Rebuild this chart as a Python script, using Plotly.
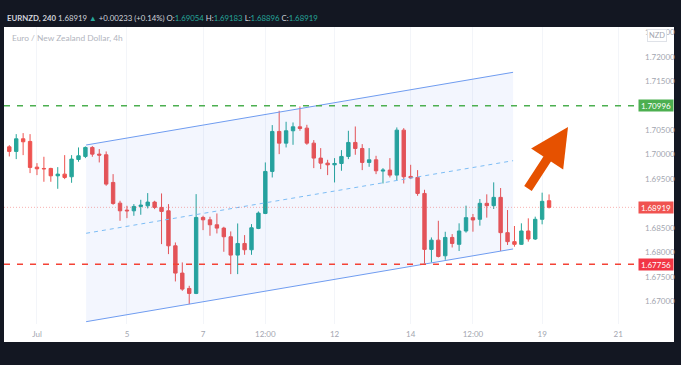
import plotly.graph_objects as go

# ---------------- data ----------------
open_ = [1.70157, 1.70062, 1.70321, 1.70267, 1.69741, 1.69714, 1.69714, 1.69564, 1.69598, 1.69544,
         1.69898, 1.69960, 1.70144, 1.70007, 1.69994, 1.69428, 1.69005, 1.68862, 1.68848, 1.68937,
         1.68950, 1.69026, 1.68917, 1.68848, 1.68132, 1.67574, 1.67260, 1.67158, 1.68712, 1.68664,
         1.68562, 1.68494, 1.68317, 1.67942, 1.68180, 1.68051, 1.68487, 1.68794, 1.69653, 1.70471,
         1.70232, 1.70485, 1.70566, 1.70539, 1.70232, 1.69926, 1.69823, 1.69789, 1.69816, 1.69960,
         1.70246, 1.70123, 1.69837, 1.69891, 1.69660, 1.69680, 1.69578, 1.70498, 1.69551, 1.69530,
         1.69203, 1.68058, 1.68248, 1.67928, 1.68303, 1.68162, 1.68435, 1.68708, 1.68674, 1.69001,
         1.68953, 1.69123, 1.68401, 1.68217, 1.68162, 1.68435, 1.68271, 1.68674, 1.69054]
high_ = [1.70191, 1.70416, 1.70437, 1.70416, 1.69823, 1.69953, 1.69728, 1.69741, 1.69987, 1.69987,
         1.70144, 1.70164, 1.70171, 1.70110, 1.70062, 1.69598, 1.69053, 1.68950, 1.68985, 1.69073,
         1.69210, 1.69053, 1.69203, 1.68985, 1.68200, 1.67792, 1.67314, 1.69189, 1.68746, 1.68726,
         1.68794, 1.68521, 1.68426, 1.68589, 1.68351, 1.68576, 1.68835, 1.69837, 1.70601, 1.70894,
         1.70669, 1.70655, 1.70982, 1.70607, 1.70294, 1.70130, 1.69891, 1.69926, 1.70089, 1.70485,
         1.70573, 1.70212, 1.70130, 1.69973, 1.69721, 1.69926, 1.70553, 1.70539, 1.69789, 1.69680,
         1.69278, 1.68303, 1.68644, 1.68419, 1.68371, 1.68592, 1.68953, 1.68783, 1.69089, 1.69185,
         1.69430, 1.69314, 1.68864, 1.68537, 1.68592, 1.68694, 1.68728, 1.69219, 1.69183]
low_ = [1.69960, 1.69905, 1.69987, 1.69619, 1.69578, 1.69442, 1.69442, 1.69298, 1.69496, 1.69421,
        1.69851, 1.69926, 1.69953, 1.69837, 1.69360, 1.68971, 1.68644, 1.68698, 1.68746, 1.68767,
        1.68896, 1.68882, 1.68167, 1.67962, 1.67403, 1.67212, 1.66939, 1.67144, 1.68453, 1.68337,
        1.68385, 1.68010, 1.67553, 1.67553, 1.67948, 1.67948, 1.68473, 1.68780, 1.69530, 1.70007,
        1.70144, 1.70198, 1.70485, 1.70198, 1.69721, 1.69701, 1.69578, 1.69428, 1.69667, 1.69905,
        1.69994, 1.69680, 1.69748, 1.69598, 1.69407, 1.69530, 1.69462, 1.69407, 1.69496, 1.69155,
        1.67771, 1.67792, 1.67894, 1.67846, 1.68098, 1.68026, 1.68401, 1.68421, 1.68544, 1.68708,
        1.68885, 1.68026, 1.68149, 1.68114, 1.68149, 1.68217, 1.68251, 1.68571, 1.68896]
close_ = [1.70062, 1.70321, 1.70260, 1.69735, 1.69707, 1.69707, 1.69564, 1.69598, 1.69530, 1.69905,
          1.69973, 1.70144, 1.70007, 1.69987, 1.69394, 1.68998, 1.68848, 1.68848, 1.68937, 1.68964,
          1.69026, 1.68917, 1.68835, 1.68132, 1.67574, 1.67246, 1.67158, 1.68712, 1.68664, 1.68562,
          1.68494, 1.68317, 1.67942, 1.68180, 1.68051, 1.68501, 1.68801, 1.69653, 1.70471, 1.70232,
          1.70485, 1.70566, 1.70532, 1.70232, 1.69926, 1.69823, 1.69789, 1.69816, 1.69960, 1.70246,
          1.70123, 1.69837, 1.69891, 1.69666, 1.69680, 1.69578, 1.70498, 1.69544, 1.69523, 1.69203,
          1.68058, 1.68248, 1.67914, 1.68303, 1.68180, 1.68435, 1.68708, 1.68660, 1.69001, 1.68953,
          1.69123, 1.68401, 1.68217, 1.68162, 1.68435, 1.68271, 1.68674, 1.69042, 1.68919]
candle_index = list(range(len(open_)))

# time-axis labels (positions in candle index)
time_tick_index = [4, 17, 28, 37, 47, 58, 67, 77, 88]
time_tick_labels = ["Jul", "5", "7", "12:00", "12", "14", "12:00", "19", "21"]

# price-scale labels (1.71000 and 1.69000 sit under the price tags in the original)
price_ticks = [1.670, 1.675, 1.680, 1.685, 1.695, 1.700, 1.705, 1.715, 1.720, 1.725]

resistance_level = 1.70996
support_level = 1.67756
last_price = 1.68919

# parallel channel drawing anchors (candle index, price)
channel_x = [11.1, 72.8]
channel_upper = [1.70194, 1.71681]
channel_mid = [1.68388, 1.69873]
channel_lower = [1.66580, 1.68067]

# arrow drawing anchor (tip) in candle index / price
arrow_tip = (80.74, 1.70562)

# ---------------- layout geometry ----------------
W, H = 681, 365
PL, PR, PT, PB = 4, 636, 27, 324   # plot area in pixels


def pxx(px):
    return (px - PL) / (PR - PL)


def pxy(py):
    return (PB - py) / (PB - PT)


GREEN = "#26a69a"
RED = "#ef5350"
BG = "#131722"
FONT = "Lato"

fig = go.Figure()

# channel background
fig.add_trace(go.Scatter(
    x=[channel_x[0], channel_x[1], channel_x[1], channel_x[0], channel_x[0]],
    y=[channel_upper[0], channel_upper[1], channel_lower[1], channel_lower[0], channel_upper[0]],
    fill="toself", fillcolor="rgba(33,100,243,0.055)", line=dict(width=0),
    mode="lines", hoverinfo="skip", showlegend=False))
fig.add_trace(go.Scatter(x=channel_x, y=channel_upper, mode="lines",
                         line=dict(color="#6f9cf0", width=1), showlegend=False, hoverinfo="skip"))
fig.add_trace(go.Scatter(x=channel_x, y=channel_lower, mode="lines",
                         line=dict(color="#6f9cf0", width=1), showlegend=False, hoverinfo="skip"))
fig.add_trace(go.Scatter(x=channel_x, y=channel_mid, mode="lines",
                         line=dict(color="#7dbdf5", width=1, dash="4px,4px"), showlegend=False,
                         hoverinfo="skip"))

fig.add_trace(go.Candlestick(
    x=candle_index, open=open_, high=high_, low=low_, close=close_,
    increasing=dict(line=dict(color=GREEN, width=1), fillcolor=GREEN),
    decreasing=dict(line=dict(color=RED, width=1), fillcolor=RED),
    whiskerwidth=0, showlegend=False))

shapes = [
    # white chart panel
    dict(type="rect", xref="paper", yref="paper", x0=pxx(4), x1=pxx(674), y0=pxy(342), y1=pxy(27),
         fillcolor="white", line=dict(width=0), layer="below"),
    # levels
    dict(type="line", xref="paper", yref="y", x0=0, x1=1, y0=resistance_level, y1=resistance_level,
         line=dict(color="#4caf50", width=1.5, dash="6px,7px")),
    dict(type="line", xref="paper", yref="y", x0=0, x1=1, y0=support_level, y1=support_level,
         line=dict(color="#f44336", width=1.5, dash="6px,7px")),
    dict(type="line", xref="paper", yref="y", x0=0, x1=1, y0=last_price, y1=last_price,
         line=dict(color="rgba(239,83,80,0.45)", width=1, dash="1px,2px")),
]

annotations = [
    dict(xref="paper", yref="paper", x=pxx(5), y=pxy(18), xanchor="left", yanchor="middle",
         showarrow=False, font=dict(family=FONT, size=7.8, color="#d1d4dc"),
         text=("<b>EURNZD, 240</b> 1.68919 <span style='color:#26a69a'>▲</span> +0.00233 (+0.14%) "
               "O:<span style='color:#26a69a'>1.69054</span> H:<span style='color:#26a69a'>1.69183</span> "
               "L:<span style='color:#26a69a'>1.68896</span> C:<span style='color:#26a69a'>1.68919</span>")),
    dict(xref="paper", yref="paper", x=pxx(10), y=pxy(38), xanchor="left", yanchor="middle",
         showarrow=False, font=dict(family=FONT, size=8.4, color="#b2b5be"),
         text="Euro / New Zealand Dollar, 4h"),
    dict(xref="paper", yref="paper", x=pxx(657), y=pxy(36), xanchor="center", yanchor="middle",
         showarrow=False, font=dict(family=FONT, size=7.5, color="#a3a6af"), text="NZD",
         bgcolor="white", bordercolor="#dfe2e8", borderwidth=1, borderpad=1),
    dict(xref="x", yref="y", x=arrow_tip[0], y=arrow_tip[1], ax=-41, ay=63, axref="pixel", ayref="pixel",
         text="", showarrow=True, arrowhead=2, arrowsize=0.85, arrowwidth=9, arrowcolor="#e65100",
         standoff=0, startstandoff=0),
]
for val, col in [(resistance_level, "#4caf50"), (last_price, "#f05350"), (support_level, "#f23645")]:
    annotations.append(dict(xref="paper", yref="y", x=pxx(638), y=val, xanchor="left", yanchor="middle",
                            showarrow=False, text=f"{val:.5f}", bgcolor=col, width=34, height=11,
                            font=dict(family=FONT, size=8, color="white"), borderpad=0))

fig.update_layout(
    width=W, height=H, paper_bgcolor=BG, plot_bgcolor="white",
    margin=dict(l=PL, r=W - PR, t=PT, b=H - PB),
    shapes=shapes, annotations=annotations,
    xaxis=dict(range=[(PL - 9.3) / 6.92, (PR - 9.3) / 6.92], tickvals=time_tick_index,
               ticktext=time_tick_labels, showgrid=True, gridcolor="#f3f5f9", gridwidth=1,
               zeroline=False, showline=False, ticks="", ticklabelstandoff=4,
               tickfont=dict(family=FONT, size=8, color="#a3a6af"), rangeslider=dict(visible=False),
               fixedrange=True),
    yaxis=dict(side="right", range=[1.72 - (PB - 56.7) / 4889, 1.72 + (56.7 - PT) / 4889],
               tickvals=price_ticks, tickformat=".5f", showgrid=False, zeroline=False, showline=False,
               ticks="", ticklabelstandoff=8, tickfont=dict(family=FONT, size=8, color="#a3a6af"),
               fixedrange=True),
    hovermode=False,
)

fig.write_html("out.html", config={"displayModeBar": False},
               post_script="document.body.style.margin='0';document.body.style.background='#131722';")
